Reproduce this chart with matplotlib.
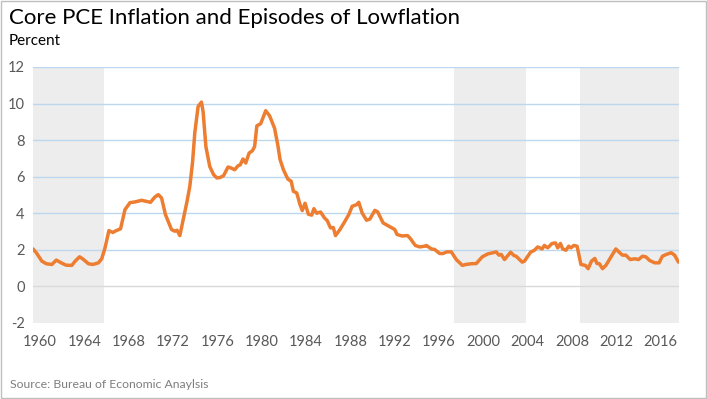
import numpy as np
import matplotlib
matplotlib.use("Agg")
import matplotlib.pyplot as plt
from matplotlib.patches import Rectangle

# core PCE inflation (year, percent)
years = [1960.0, 1960.3, 1960.8, 1961.2, 1961.7, 1962.1, 1962.6, 1963.0, 1963.5, 1963.8,
         1964.2, 1964.5, 1965.0, 1965.4, 1965.9, 1966.2, 1966.5, 1966.85, 1967.2, 1967.5,
         1967.9, 1968.3, 1968.75, 1969.2, 1969.8, 1970.25, 1970.6, 1971.0, 1971.3, 1971.6,
         1971.95, 1972.2, 1972.5, 1972.8, 1973.0, 1973.25, 1973.55, 1973.9, 1974.15, 1974.4,
         1974.6, 1974.9, 1975.2, 1975.35, 1975.6, 1975.95, 1976.3, 1976.6, 1976.9, 1977.2,
         1977.6, 1977.9, 1978.2, 1978.5, 1978.7, 1978.95, 1979.2, 1979.5, 1979.8, 1980.0,
         1980.2, 1980.55, 1981.0, 1981.35, 1981.8, 1982.1, 1982.3, 1982.6, 1983.0, 1983.3,
         1983.5, 1983.8, 1984.1, 1984.3, 1984.55, 1984.85, 1985.15, 1985.35, 1985.6, 1985.95,
         1986.3, 1986.55, 1986.85, 1987.1, 1987.3, 1987.7, 1988.1, 1988.5, 1988.8, 1989.2,
         1989.4, 1989.7, 1990.1, 1990.4, 1990.85, 1991.1, 1991.6, 1992.1, 1992.65, 1992.85,
         1993.3, 1993.8, 1994.05, 1994.5, 1994.9, 1995.35, 1995.5, 1995.95, 1996.25, 1996.7,
         1997.0, 1997.35, 1997.75, 1998.2, 1998.75, 1999.05, 1999.55, 2000.0, 2000.55, 2001.05,
         2001.5, 2001.8, 2002.05, 2002.25, 2002.55, 2003.1, 2003.4, 2003.6, 2004.15, 2004.35,
         2004.9, 2005.25, 2005.55, 2005.95, 2006.15, 2006.45, 2006.85, 2007.15, 2007.35, 2007.6,
         2007.8, 2008.1, 2008.35, 2008.55, 2008.8, 2009.1, 2009.45, 2009.85, 2010.1, 2010.4,
         2010.7, 2010.9, 2011.1, 2011.4, 2011.7, 2012.2, 2012.6, 2012.9, 2013.2, 2013.5,
         2013.9, 2014.3, 2014.65, 2015.0, 2015.3, 2015.65, 2016.1, 2016.5, 2016.8, 2017.15,
         2017.6, 2017.9, 2018.25]
core_pce = [2.05, 1.84, 1.38, 1.24, 1.20, 1.44, 1.27, 1.16, 1.15, 1.38,
            1.62, 1.50, 1.24, 1.20, 1.29, 1.51, 2.11, 3.05, 2.95, 3.05,
            3.15, 4.20, 4.58, 4.62, 4.71, 4.65, 4.60, 4.89, 5.02, 4.84,
            3.93, 3.56, 3.11, 3.02, 3.07, 2.78, 3.65, 4.65, 5.47, 6.80,
            8.40, 9.84, 10.08, 9.56, 7.65, 6.56, 6.11, 5.93, 5.96, 6.06,
            6.53, 6.47, 6.38, 6.60, 6.65, 6.97, 6.75, 7.29, 7.42, 7.65,
            8.78, 8.90, 9.61, 9.33, 8.65, 7.70, 6.93, 6.38, 5.87, 5.75,
            5.20, 5.11, 4.47, 4.15, 4.55, 3.95, 3.90, 4.25, 4.00, 4.07,
            3.75, 3.60, 3.20, 3.22, 2.78, 3.11, 3.51, 3.93, 4.38, 4.47,
            4.60, 4.02, 3.62, 3.68, 4.16, 4.08, 3.47, 3.30, 3.11, 2.84,
            2.76, 2.78, 2.62, 2.24, 2.16, 2.20, 2.24, 2.05, 2.02, 1.80,
            1.80, 1.89, 1.89, 1.47, 1.15, 1.20, 1.24, 1.25, 1.62, 1.78,
            1.84, 1.89, 1.71, 1.75, 1.47, 1.87, 1.69, 1.65, 1.33, 1.38,
            1.87, 1.98, 2.16, 2.05, 2.24, 2.11, 2.35, 2.38, 2.11, 2.35,
            2.05, 1.98, 2.20, 2.11, 2.24, 2.20, 1.20, 1.15, 0.97, 1.38,
            1.53, 1.25, 1.25, 0.97, 1.15, 1.65, 2.05, 1.87, 1.71, 1.71,
            1.47, 1.51, 1.47, 1.65, 1.62, 1.42, 1.29, 1.29, 1.65, 1.75,
            1.84, 1.71, 1.33]

# lowflation episodes (start, end)
episode_start = [1960.0, 1998.0, 2009.4]
episode_end = [1966.4, 2004.5, 2018.3]

tick_years = list(range(1960, 2017, 4))

plt.rcParams['font.family'] = ['Lato', 'DejaVu Sans']

fig = plt.figure(figsize=(7.07, 3.99), dpi=100)
ax = fig.add_axes([0.0467, 0.1905, 0.9137, 0.6416])

# shaded episodes
for s, e in zip(episode_start, episode_end):
    ax.axvspan(s, e, color="#ededed", lw=0, zorder=0)

# gridlines
for v in range(2, 13, 2):
    ax.axhline(v, color="#bdd7ee", lw=1.0, zorder=1)
ax.axhline(0, color="#d9d9d9", lw=1.0, zorder=1)

ax.plot(years, core_pce, color="#ed7d31", lw=2.5, zorder=3,
        solid_joinstyle="round", solid_capstyle="round")

ax.set_xlim(1960.0, 2018.3)
ax.set_ylim(-2, 12)
ax.set_yticks(np.arange(-2, 13, 2))
ax.set_yticklabels([str(v) for v in range(-2, 13, 2)])
ax.set_xticks([y + 0.63 for y in tick_years])
ax.set_xticklabels([str(y) for y in tick_years])
ax.tick_params(length=0, labelsize=10.5, colors="#595959")
ax.tick_params(axis="y", pad=6)
ax.tick_params(axis="x", pad=9)
for sp in ax.spines.values():
    sp.set_visible(False)

fig.text(9 / 707, 1 - 18 / 399, "Core PCE Inflation and Episodes of Lowflation",
         fontsize=16, color="#000000", va="center", ha="left")
fig.text(9 / 707, 1 - 41 / 399, "Percent", fontsize=11, color="#000000",
         va="center", ha="left")
fig.text(10 / 707, 1 - 385 / 399, "Source: Bureau of Economic Anaylsis",
         fontsize=8.8, color="#7f7f7f", va="center", ha="left")

# chart border
fig.patches.append(Rectangle((0.001, 0.002), 0.997, 0.995, transform=fig.transFigure,
                             fill=False, edgecolor="#bfbfbf", lw=1.0))

fig.savefig("out.png", dpi=100)
